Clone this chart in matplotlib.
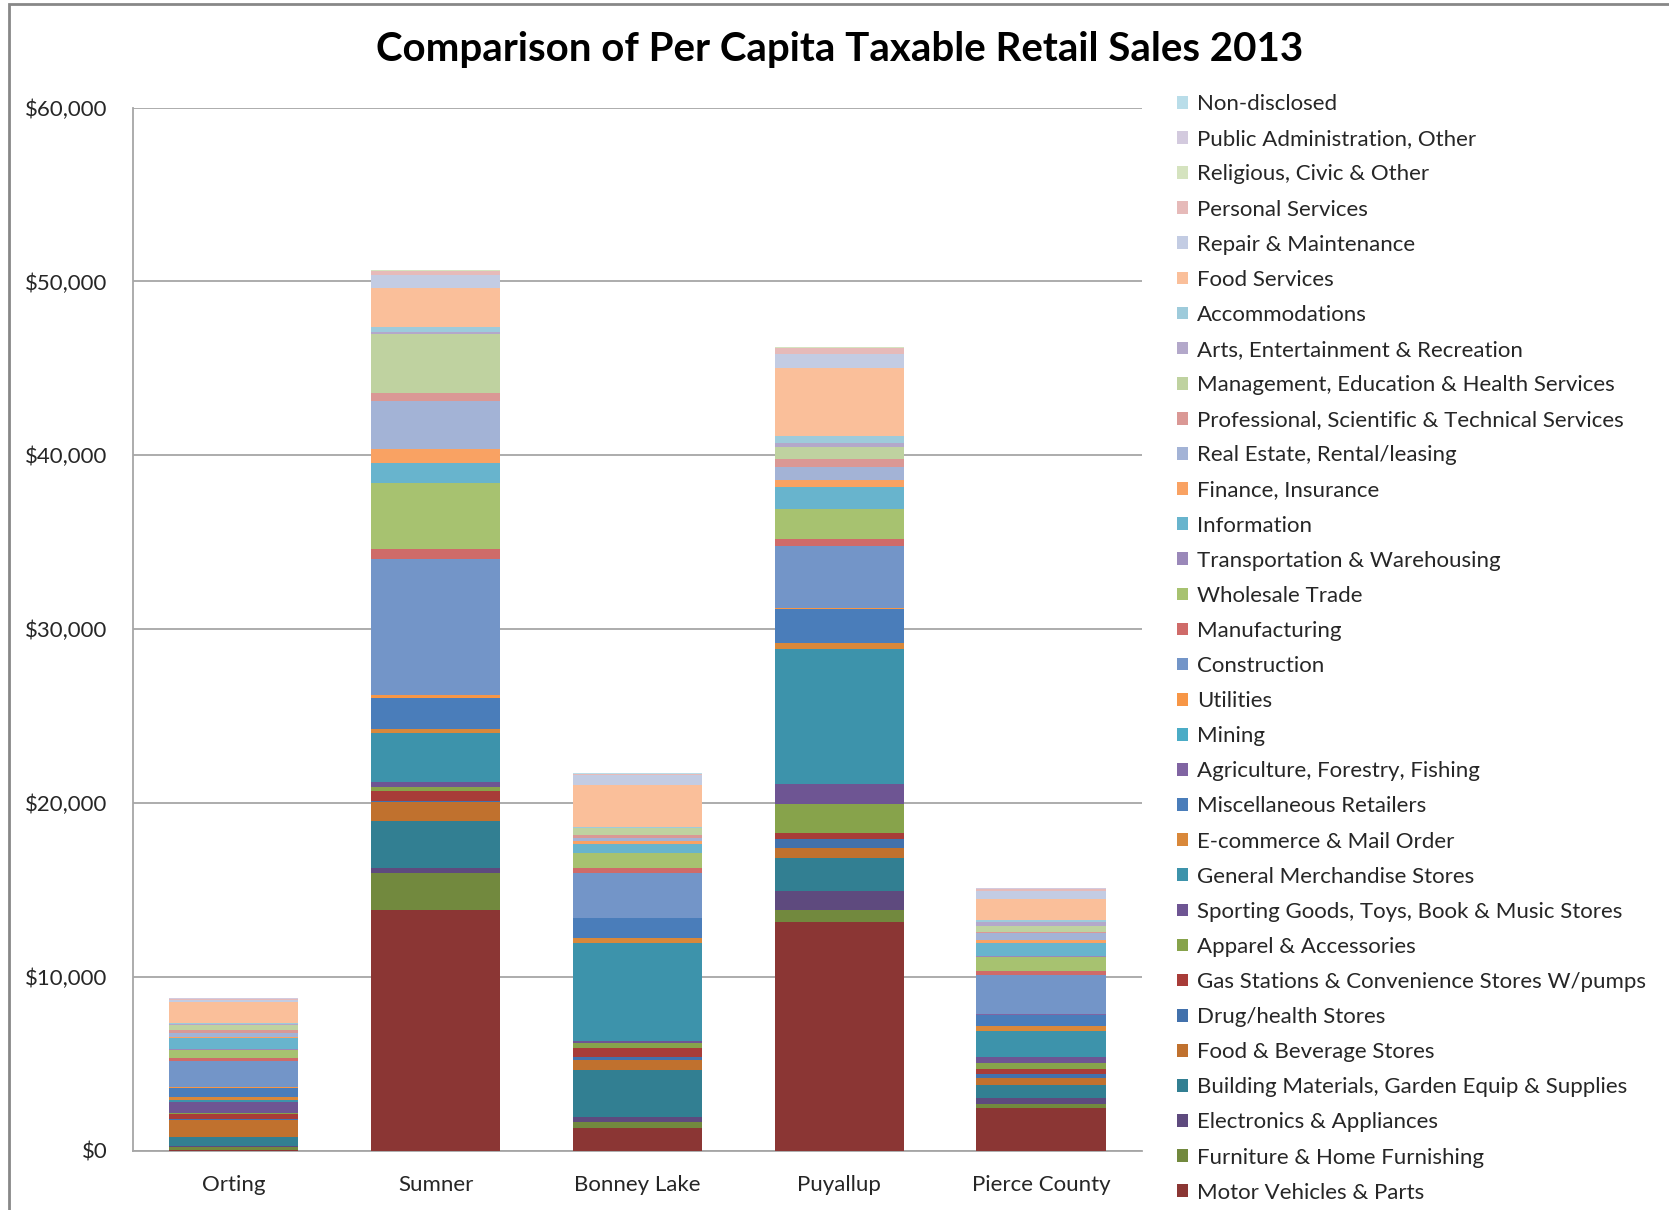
import matplotlib
matplotlib.use("Agg")
import matplotlib.pyplot as plt
from matplotlib.patches import Rectangle, Patch
from matplotlib.ticker import FuncFormatter
import numpy as np

plt.rcParams['font.family'] = ['Lato', 'DejaVu Sans']

cities = ["Orting", "Sumner", "Bonney Lake", "Puyallup", "Pierce County"]

# categories, bottom of stack to top
categories = [
    "Motor Vehicles & Parts",
    "Furniture & Home Furnishing",
    "Electronics & Appliances",
    "Building Materials, Garden Equip & Supplies",
    "Food & Beverage Stores",
    "Drug/health Stores",
    "Gas Stations & Convenience Stores W/pumps",
    "Apparel & Accessories",
    "Sporting Goods, Toys, Book & Music Stores",
    "General Merchandise Stores",
    "E-commerce & Mail Order",
    "Miscellaneous Retailers",
    "Agriculture, Forestry, Fishing",
    "Mining",
    "Utilities",
    "Construction",
    "Manufacturing",
    "Wholesale Trade",
    "Transportation & Warehousing",
    "Information",
    "Finance, Insurance",
    "Real Estate, Rental/leasing",
    "Professional, Scientific & Technical Services",
    "Management, Education & Health Services",
    "Arts, Entertainment & Recreation",
    "Accommodations",
    "Food Services",
    "Repair & Maintenance",
    "Personal Services",
    "Religious, Civic & Other",
    "Public Administration, Other",
    "Non-disclosed",
]

orting = [50, 150, 100, 500, 1000, 50, 280, 30, 650, 100, 200, 530, 0, 0, 20,
          1540, 150, 480, 10, 670, 60, 200, 200, 300, 50, 50, 1180, 150, 40, 20, 10, 10]
sumner = [13850, 2120, 290, 2730, 1060, 60, 610, 210, 310, 2810, 220, 1760, 0, 0, 190,
          7800, 610, 3800, 0, 1150, 770, 2800, 450, 3380, 100, 320, 2200, 770, 250, 30, 20, 10]
bonney_lake = [1300, 390, 280, 2690, 575, 190, 480, 290, 100, 5650, 290, 1150, 0, 0, 30,
               2560, 320, 830, 20, 530, 170, 150, 150, 400, 50, 50, 2400, 570, 60, 20, 10, 10]
puyallup = [13190, 670, 1110, 1860, 580, 530, 360, 1640, 1150, 7760, 350, 1980, 0, 0, 50,
            3560, 420, 1730, 0, 1240, 380, 770, 440, 710, 250, 360, 3930, 820, 350, 30, 20, 10]
pierce_county = [2450, 230, 350, 770, 380, 230, 290, 380, 350, 1440, 290, 670, 20, 10, 30,
                 2240, 190, 830, 40, 750, 190, 380, 60, 380, 190, 150, 1190, 480, 100, 30, 20, 10]

colors = [
    "#8B3634", "#72893E", "#5E4A7E", "#327F92", "#C0712E", "#4271AC", "#A83C38",
    "#87A34B", "#6E5593", "#3D93AB", "#D9883A", "#4A7DBA", "#8064A2", "#4BACC6",
    "#F79646", "#7395C8", "#CF6B69", "#A7C270", "#9A88B9", "#68B4CD", "#F9A263",
    "#A3B3D6", "#DA9895", "#BFD2A0", "#B3A8CA", "#9ECBDB", "#FABF9A", "#C3CCE3",
    "#E6BAB9", "#D5E3BF", "#D3CADE", "#B9DDE9",
]

data = np.array([orting, sumner, bonney_lake, puyallup, pierce_county], dtype=float).T

fig = plt.figure(figsize=(16.69, 12.10), dpi=100)
ax = fig.add_axes([0.0797, 0.0488, 0.6045, 0.8623])

x = np.arange(len(cities))
bottom = np.zeros(len(cities))
handles = []
for i, cat in enumerate(categories):
    ax.bar(x, data[i], width=0.64, bottom=bottom, color=colors[i], linewidth=0, zorder=3)
    bottom += data[i]
    handles.append(Patch(facecolor=colors[i], edgecolor='none', label=cat))

ax.set_xlim(-0.5, 4.5)
ax.set_ylim(0, 60000)
ax.set_yticks(np.arange(0, 60001, 10000))
ax.yaxis.set_major_formatter(FuncFormatter(lambda v, p: "${:,.0f}".format(v)))
ax.set_xticks(x)
ax.set_xticklabels(cities)
ax.grid(axis='y', color='#A6A6A6', linewidth=1.3, zorder=0)
for s in ['top', 'right']:
    ax.spines[s].set_visible(False)
for s in ['left', 'bottom']:
    ax.spines[s].set_color('#A6A6A6')
    ax.spines[s].set_linewidth(1.3)
ax.tick_params(axis='y', length=0, labelsize=16, colors='#262626', pad=18.5)
ax.tick_params(axis='x', length=0, labelsize=16, colors='#262626', pad=17)

fig.text(0.503, 0.959, "Comparison of Per Capita Taxable Retail Sales 2013",
         ha='center', va='center', fontsize=29, fontweight='bold', color='black')

leg = fig.legend(handles=handles[::-1], loc='upper left',
                 bbox_to_anchor=(0.7, 0.9295), frameon=False,
                 fontsize=16, handlelength=0.5, handleheight=0.5,
                 handletextpad=0.4, labelspacing=0.68, borderaxespad=0)
for t in leg.get_texts():
    t.set_color('#262626')

# outer chart border
fig.patches.append(Rectangle((9 / 1669, -0.05), 1.2, 1 - 4 / 1210 + 0.05,
                             transform=fig.transFigure, fill=False,
                             edgecolor='#888888', linewidth=2))

fig.savefig("out.png", dpi=100)
